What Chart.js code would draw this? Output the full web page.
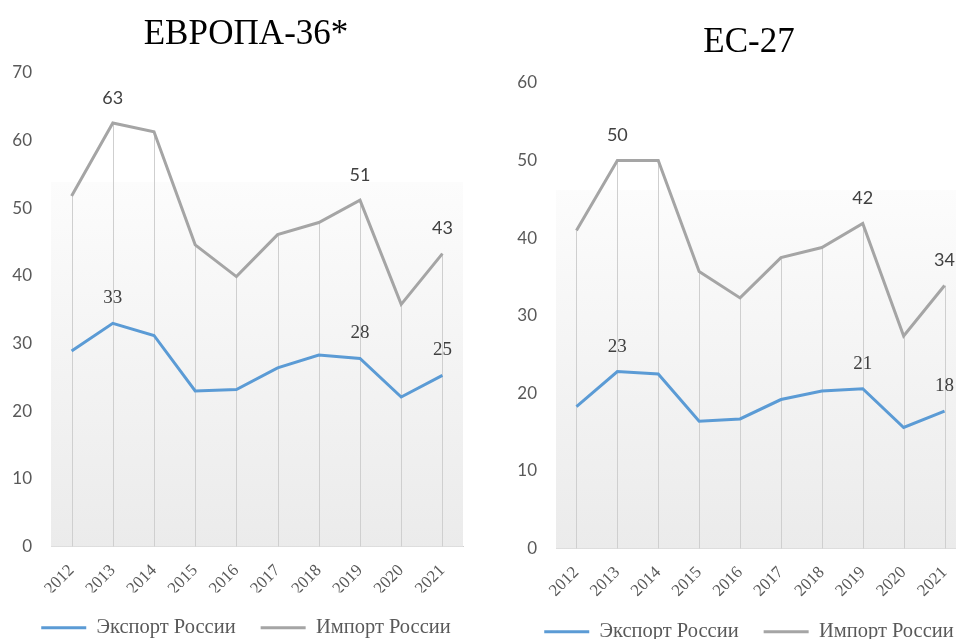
<!DOCTYPE html>
<html lang="ru">
<head>
<meta charset="utf-8">
<script src="https://cdn.jsdelivr.net/npm/chart.js@4.4.1/dist/chart.umd.min.js"></script>
<style>
  html, body { margin: 0; padding: 0; background: #fff; width: 956px; height: 639px; overflow: hidden; }
  .box { position: absolute; top: 0; }
  #europe-box { left: 0; }
  #eu-box { left: 480px; }
</style>
</head>
<body>
<div class="box" id="europe-box"><canvas id="europeChart" width="480" height="658"></canvas></div>
<div class="box" id="eu-box"><canvas id="euChart" width="530" height="662"></canvas></div>
<script>
const years = ["2012", "2013", "2014", "2015", "2016", "2017", "2018", "2019", "2020", "2021"];
const europeExport = [28.9, 33.0, 31.2, 23.0, 23.2, 26.4, 28.3, 27.8, 22.1, 25.3];
const europeImport = [51.8, 62.6, 61.3, 44.6, 39.9, 46.1, 47.9, 51.2, 35.8, 43.3];
const euExport = [18.3, 22.8, 22.5, 16.4, 16.7, 19.2, 20.3, 20.6, 15.6, 17.7];
const euImport = [41.0, 50.0, 50.0, 35.7, 32.3, 37.5, 38.8, 41.9, 27.4, 33.9];
const labeledYears = ["2013", "2019", "2021"];

const EXPORT_COLOR = "#5b9bd5";
const IMPORT_COLOR = "#a5a5a5";
const TEXT_GRAY = "#595959";

// plot area fill: fades from white to light gray
const backgroundPlugin = {
  id: "plotBackground",
  beforeDatasetsDraw(chart) {
    const { ctx, chartArea: a } = chart;
    const top = a.top + (a.bottom - a.top) * 0.23;
    const grad = ctx.createLinearGradient(0, top, 0, a.bottom);
    grad.addColorStop(0, "#fcfcfc");
    grad.addColorStop(1, "#ebebeb");
    ctx.save();
    ctx.fillStyle = grad;
    ctx.fillRect(a.left, top, a.right - a.left, a.bottom - top);

    // drop lines from the upper series down to the axis
    const meta = chart.getDatasetMeta(1);
    ctx.strokeStyle = "#cfcfcf";
    ctx.lineWidth = 1;
    meta.data.forEach((pt) => {
      ctx.beginPath();
      ctx.moveTo(Math.round(pt.x) + 0.5, pt.y);
      ctx.lineTo(Math.round(pt.x) + 0.5, a.bottom);
      ctx.stroke();
    });
    ctx.restore();
  },
};

const valueLabelPlugin = {
  id: "valueLabels",
  afterDatasetsDraw(chart) {
    const { ctx } = chart;
    ctx.save();
    ctx.textAlign = "center";
    ctx.textBaseline = "middle";
    chart.data.datasets.forEach((ds, di) => {
      const meta = chart.getDatasetMeta(di);
      ctx.font = di === 1 ? "18px Lato" : "19px 'Liberation Serif'";
      ctx.fillStyle = "#404040";
      chart.data.labels.forEach((year, i) => {
        if (!labeledYears.includes(year)) return;
        const pt = meta.data[i];
        ctx.fillText(Math.round(ds.data[i]), pt.x, pt.y - 25);
      });
    });
    ctx.restore();
  },
};

function renderChart(canvasId, title, exportData, importData, yMax, cfg) {
  const ctx = document.getElementById(canvasId).getContext("2d");
  new Chart(ctx, {
    type: "line",
    data: {
      labels: years,
      datasets: [
        {
          label: "Экспорт России",
          data: exportData,
          borderColor: EXPORT_COLOR,
          backgroundColor: EXPORT_COLOR,
          borderWidth: 3,
          pointRadius: 0,
          tension: 0,
        },
        {
          label: "Импорт России",
          data: importData,
          borderColor: IMPORT_COLOR,
          backgroundColor: IMPORT_COLOR,
          borderWidth: 3,
          pointRadius: 0,
          tension: 0,
        },
      ],
    },
    options: {
      responsive: false,
      animation: false,
      layout: { padding: cfg.padding },
      plugins: {
        tooltip: { enabled: false },
        title: {
          display: true,
          text: title,
          color: "#000",
          font: { family: "'Liberation Serif'", size: 35, weight: "normal" },
          padding: cfg.titlePadding,
        },
        legend: {
          display: true,
          position: "bottom",
          labels: {
            boxWidth: 45,
            boxHeight: 3,
            padding: 25,
            color: TEXT_GRAY,
            font: { family: "'Liberation Serif'", size: 20.5 },
            generateLabels(chart) {
              return chart.data.datasets.map((ds, i) => ({
                text: ds.label,
                fillStyle: ds.borderColor,
                strokeStyle: ds.borderColor,
                lineWidth: 0,
                fontColor: TEXT_GRAY,
                datasetIndex: i,
              }));
            },
          },
        },
      },
      scales: {
        x: {
          offset: true,
          grid: { display: false, drawTicks: false },
          border: { display: true, color: "#d0d0d0" },
          ticks: {
            color: TEXT_GRAY,
            minRotation: 45,
            maxRotation: 45,
            padding: 14,
            font: { family: "'Liberation Serif'", size: 17 },
          },
          afterFit(scale) {
            scale.height = cfg.xHeight;
            scale.paddingLeft = 0;
            scale.paddingRight = cfg.plotRight;
          },
        },
        y: {
          min: 0,
          max: yMax,
          grid: { display: false, drawTicks: false },
          border: { display: false },
          ticks: {
            stepSize: 10,
            padding: 19,
            color: TEXT_GRAY,
            font: { family: "Lato", size: 17 },
          },
          afterFit(scale) {
            scale.width = cfg.yWidth;
          },
        },
      },
    },
    plugins: [backgroundPlugin, valueLabelPlugin],
  });
}

renderChart("europeChart", "ЕВРОПА-36*", europeExport, europeImport, 70, {
  padding: { left: 12, right: 0, top: 0, bottom: 10 },
  titlePadding: { top: 14, bottom: 17 },
  xHeight: 46,
  yWidth: 39,
  plotRight: 17,
});
renderChart("euChart", "ЕС-27", euExport, euImport, 60, {
  padding: { left: 8, right: 0, top: 0, bottom: 10 },
  titlePadding: { top: 22, bottom: 19 },
  xHeight: 48,
  yWidth: 68,
  plotRight: 45,
});
</script>
</body>
</html>
